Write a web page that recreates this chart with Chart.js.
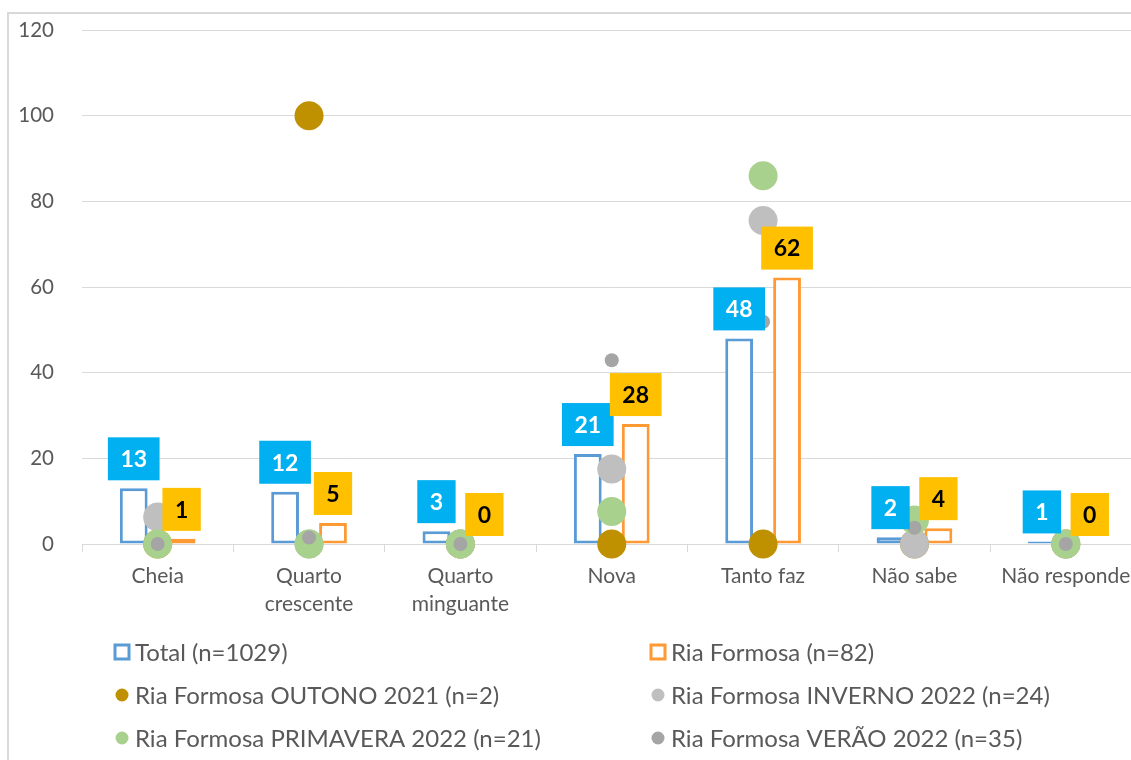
<!DOCTYPE html>
<html>
<head>
<meta charset="utf-8">
<script src="https://cdn.jsdelivr.net/npm/chart.js@4"></script>
<style>
  html, body { margin: 0; padding: 0; background: #fff; overflow: hidden; }
  #frame { position: absolute; left: 7px; top: 12px; width: 1200px; height: 800px; border: 2px solid #D9D9D9; }
  #chart { position: absolute; left: 0; top: 0; }
</style>
</head>
<body>
<div id="frame"></div>
<canvas id="chart" width="1156" height="760"></canvas>
<script>
// categories (phase of the moon) and series (%)
const categories = ["Cheia", ["Quarto", "crescente"], ["Quarto", "minguante"], "Nova", "Tanto faz", "Não sabe", "Não responde"];

const totalValues = [13, 12.2, 3, 21, 48, 1.6, 0.6];
const riaValues = [1.2, 4.9, 0, 28, 62.2, 3.7, 0];
const outonoValues = [0, 100, 0, 0, 0, 0, 0];
const invernoValues = [6.3, 0, 0, 17.5, 75.5, 0, 0];
const primaveraValues = [0, 0, 0, 7.6, 86, 5.6, 0];
const veraoValues = [0, 1.5, 0, 42.9, 51.9, 3.8, 0];

const yTicks = [0, 20, 40, 60, 80, 100, 120];

const seriesNames = [
  "Total (n=1029)",
  "Ria Formosa (n=82)",
  "Ria Formosa OUTONO 2021 (n=2)",
  "Ria Formosa INVERNO 2022 (n=24)",
  "Ria Formosa PRIMAVERA 2022 (n=21)",
  "Ria Formosa VERÃO 2022 (n=35)"
];

Chart.defaults.font.family = "Lato, 'Open Sans', sans-serif";

const textGrey = "#595959";
const gridGrey = "#D9D9D9";

function dotSeries(label, data, color, radius, order) {
  return {
    type: "line",
    label: label,
    data: data,
    showLine: false,
    pointRadius: radius,
    pointHoverRadius: radius,
    pointBackgroundColor: color,
    pointBorderWidth: 0,
    backgroundColor: color,
    borderColor: color,
    clip: false,
    order: order
  };
}

// value boxes above the bars (cyan for Total, yellow for Ria Formosa)
const boxLabels = {
  id: "boxLabels",
  afterDatasetsDraw(chart) {
    const ctx = chart.ctx;
    const styles = [
      { fill: "#00B0F0", text: "#FFFFFF" },
      { fill: "#FFC000", text: "#000000" }
    ];
    ctx.save();
    ctx.font = "bold 23px Lato";
    ctx.textAlign = "center";
    ctx.textBaseline = "middle";
    [0, 1].forEach(di => {
      const meta = chart.getDatasetMeta(di);
      const values = chart.data.datasets[di].data;
      meta.data.forEach((bar, j) => {
        const txt = String(Math.round(values[j]));
        const w = ctx.measureText(txt).width + 25;
        const h = 43;
        const bottom = bar.y - 8;
        ctx.fillStyle = styles[di].fill;
        ctx.fillRect(bar.x - w / 2, bottom - h, w, h);
        ctx.fillStyle = styles[di].text;
        ctx.fillText(txt, bar.x, bottom - h / 2 + 1);
      });
    });
    ctx.restore();
  }
};

// two-column legend under the plot
const gridLegend = {
  id: "gridLegend",
  afterDraw(chart) {
    const ctx = chart.ctx;
    ctx.save();
    ctx.font = "24px Lato";
    ctx.textBaseline = "middle";
    ctx.textAlign = "left";
    chart.data.datasets.forEach((ds, i) => {
      const col = i % 2;
      const row = Math.floor(i / 2);
      const mx = col ? 658 : 122;
      const y = 652 + row * 43;
      if (ds.type === "bar") {
        ctx.fillStyle = "#fff";
        ctx.strokeStyle = ds.borderColor;
        ctx.lineWidth = 3;
        ctx.fillRect(mx - 7, y - 7, 14, 14);
        ctx.strokeRect(mx - 7, y - 7, 14, 14);
      } else {
        ctx.fillStyle = ds.pointBackgroundColor;
        ctx.beginPath();
        ctx.arc(mx, y, 6.5, 0, Math.PI * 2);
        ctx.fill();
      }
      ctx.fillStyle = textGrey;
      ctx.fillText(ds.label, mx + 13, y + 1);
    });
    ctx.restore();
  }
};

new Chart(document.getElementById("chart"), {
  type: "bar",
  data: {
    labels: categories,
    datasets: [
      {
        type: "bar",
        label: seriesNames[0],
        data: totalValues,
        backgroundColor: "#FFFFFF",
        borderColor: "#5B9BD5",
        borderWidth: 3,
        borderSkipped: false,
        categoryPercentage: 0.633,
        barPercentage: 0.58,
        order: 5
      },
      {
        type: "bar",
        label: seriesNames[1],
        data: riaValues,
        backgroundColor: "#FFFFFF",
        borderColor: "#FF9933",
        borderWidth: 3,
        borderSkipped: false,
        categoryPercentage: 0.633,
        barPercentage: 0.58,
        order: 6
      },
      dotSeries(seriesNames[2], outonoValues, "#BF9000", 14.5, 4),
      dotSeries(seriesNames[3], invernoValues, "#BFBFBF", 14.5, 3),
      dotSeries(seriesNames[4], primaveraValues, "#A9D18E", 14.5, 2),
      dotSeries(seriesNames[5], veraoValues, "#A5A5A5", 7, 1)
    ]
  },
  options: {
    responsive: false,
    animation: false,
    layout: { padding: { left: 8, top: 30, right: 2, bottom: 126 } },
    plugins: {
      legend: { display: false },
      tooltip: { enabled: false }
    },
    scales: {
      x: {
        offset: true,
        grid: { display: true, drawOnChartArea: false, drawTicks: true, tickLength: 8, color: gridGrey, offset: true },
        border: { color: gridGrey, width: 1 },
        ticks: { color: textGrey, font: { size: 21, lineHeight: 1.35 }, padding: 10, maxRotation: 0, autoSkip: false },
        afterFit: s => { s.height = 90; s.paddingLeft = 0; s.paddingRight = 0; }
      },
      y: {
        min: 0,
        max: 120,
        afterBuildTicks: s => { s.ticks = yTicks.map(v => ({ value: v })); },
        grid: { color: gridGrey, drawTicks: false },
        border: { display: false },
        ticks: { color: textGrey, font: { size: 20.5 }, padding: 28 },
        afterFit: s => { s.width = 74; s.paddingTop = 12; s.paddingBottom = 12; }
      }
    }
  },
  plugins: [boxLabels, gridLegend]
});
</script>
</body>
</html>
